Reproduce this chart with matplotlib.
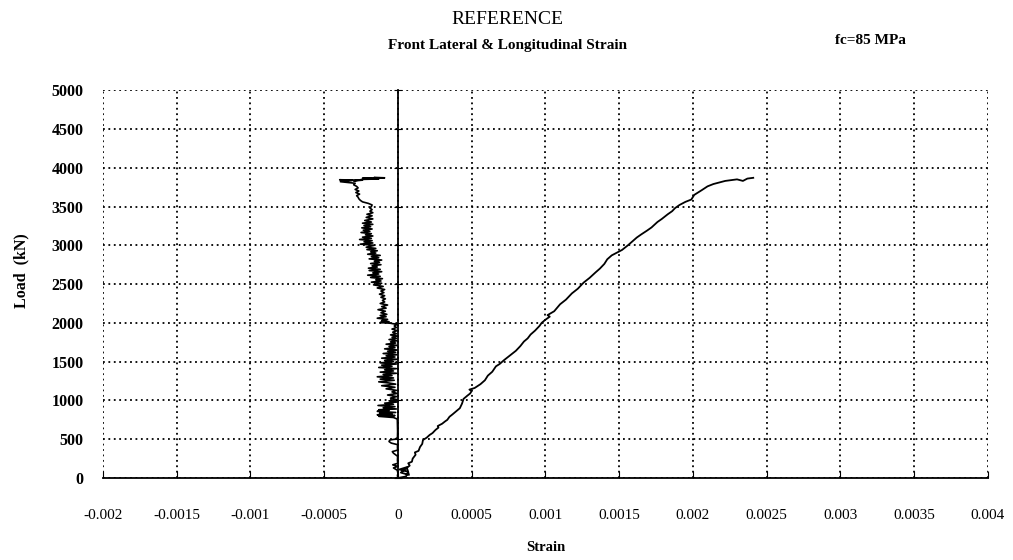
import matplotlib
matplotlib.use("Agg")
import matplotlib.pyplot as plt
import numpy as np

# Lateral strain (negative side): strain in micro-strain, load in kN
lat_strain = [0, -3, 0, -4, -30, -2, -35, -1, -3, -2, -30, -38, -2, -3, -2, -45, -60, -55, -20,
              -3, -2, -3, -4,
              -30, -130, -20, -140, -40, -125, -15, -140, -60, -130, -10, -100, -20, -135, -30,
              -90, -5, -60, -5,
              -50, -8, -70, -5, -40, -10, -80, -20, -110, -15, -60, -130, -25, -120, -30, -140,
              -40, -100, -10, -120, -30, -90,
              -10, -130, -40, -110, -10, -120, -30, -90, -5, -110, -20, -80, -5, -100, -15, -70,
              -5, -90, -20, -60, -5, -80, -15, -50, -5, -60, -10, -40, -5, -50, -10, -35, -5,
              -40, -10, -25, -5, -50, -120,
              -60, -110, -70, -140, -80, -120, -75, -115, -85, -135, -80, -110, -70, -120, -90,
              -105, -85, -115, -90, -125, -95, -115, -90, -140, -100, -165, -110, -180, -115,
              -150, -105, -185, -120,
              -205, -130, -170, -110, -195, -120, -200, -140, -175, -115, -185, -125, -160, -110,
              -195, -130, -180, -120, -205, -150, -185, -140, -210, -150, -215, -160,
              -255, -170, -230, -175, -260, -180, -240, -170, -220, -180, -250, -190, -235, -175,
              -245, -185, -230, -170, -240, -180, -225, -170, -215, -175, -210, -170, -190, -175,
              -190, -180, -175,
              -200, -240, -255, -265, -270, -280, -260, -285, -265, -290, -270, -280, -300, -290,
              -390, -310, -395, -240, -300, -240, -130, -240, -90, -160, -145]
lat_load = [0, 30, 60, 100, 130, 150, 170, 190, 230, 280, 320, 340, 360, 400, 430, 450, 470, 490, 500,
            520, 600, 700, 760,
            780, 795, 805, 815, 825, 835, 845, 860, 870, 880, 890, 905, 920, 935, 950,
            965, 980, 995, 1010,
            1030, 1050, 1070, 1090, 1110, 1130, 1150, 1170, 1190, 1210, 1225, 1240, 1260, 1275, 1290, 1305,
            1320, 1335, 1350, 1365, 1380, 1395,
            1410, 1425, 1440, 1455, 1470, 1485, 1500, 1515, 1530, 1545, 1560, 1575, 1590, 1605, 1620, 1635,
            1650, 1665, 1680, 1695, 1710, 1725, 1740, 1755, 1770, 1785, 1800, 1815, 1830, 1845, 1860, 1880, 1900,
            1920, 1940, 1960, 1980, 1995, 2005,
            2015, 2030, 2045, 2060, 2080, 2095, 2110, 2130, 2150, 2170, 2190, 2210, 2230, 2250, 2270,
            2290, 2310, 2330, 2350, 2370, 2390, 2410, 2430, 2450, 2470, 2490, 2510, 2525, 2540,
            2555, 2570, 2585, 2600,
            2615, 2630, 2645, 2660, 2675, 2690, 2705, 2720, 2735, 2750, 2765, 2780, 2795, 2810,
            2825, 2840, 2855, 2870, 2885, 2900, 2915, 2930, 2945, 2960, 2975, 3000,
            3015, 3030, 3045, 3060, 3075, 3090, 3105, 3120, 3135, 3150, 3165, 3180, 3195, 3210,
            3225, 3240, 3255, 3270, 3285, 3300, 3320, 3340, 3360, 3380, 3400, 3420, 3440, 3460,
            3480, 3500, 3520,
            3540, 3560, 3580, 3600, 3620, 3640, 3660, 3680, 3700, 3720, 3740, 3760, 3780, 3800,
            3820, 3835, 3845, 3840, 3830, 3850, 3855, 3865, 3870, 3875, 3860]

# Longitudinal strain (positive side)
lon_strain = [0, 55, 70, 10, 60, 75, 20, 80, 70, 95, 100, 120, 115, 140, 150, 165, 170, 195, 215,
              235, 255, 275, 270, 300, 320, 335, 350, 370, 395, 420, 435, 445, 470, 490, 500, 485,
              520, 560, 590, 610, 640, 665, 690, 720, 760, 800, 830, 855, 880, 900, 930, 960, 975,
              1000, 1030, 1015, 1060, 1100, 1140, 1180, 1220, 1260, 1300, 1340, 1370, 1400, 1420,
              1450, 1480, 1520, 1560, 1590, 1620, 1650, 1690, 1720, 1760, 1790, 1830, 1860, 1880,
              1910, 1950, 1990, 2010, 2060, 2100, 2140, 2180, 2220, 2260, 2300, 2340, 2370, 2410]
lon_load = [0, 20, 80, 110, 140, 40, 70, 160, 190, 210, 250, 300, 330, 350, 400, 440, 490, 520, 555,
            580, 620, 650, 670, 700, 730, 750, 790, 820, 860, 900, 960, 1020, 1060, 1090, 1120, 1140,
            1160, 1210, 1260, 1320, 1370, 1440, 1470, 1520, 1580, 1640, 1700, 1760, 1800, 1850, 1900, 1960, 2000,
            2040, 2080, 2100, 2150, 2240, 2300, 2380, 2440, 2520, 2580, 2650, 2700, 2760, 2820,
            2870, 2900, 2940, 3000, 3050, 3100, 3140, 3190, 3230, 3300, 3340, 3400, 3440, 3480,
            3520, 3560, 3590, 3650, 3710, 3760, 3790, 3810, 3830, 3840, 3850, 3830, 3860, 3870]

x_ticks = [-0.002, -0.0015, -0.001, -0.0005, 0, 0.0005, 0.001, 0.0015, 0.002,
           0.0025, 0.003, 0.0035, 0.004]
x_labels = ["-0.002", "-0.0015", "-0.001", "-0.0005", "0", "0.0005", "0.001",
            "0.0015", "0.002", "0.0025", "0.003", "0.0035", "0.004"]
y_ticks = list(range(0, 5001, 500))

plt.rcParams["font.family"] = ["Liberation Serif", "DejaVu Serif"]

fig = plt.figure(figsize=(10.13, 5.6), dpi=100)
ax = fig.add_axes([0.1017, 0.1464, 0.8733, 0.6926])

ax.plot(np.array(lat_strain) * 1e-6, lat_load, color="black", lw=1.2, zorder=3)
ax.plot(np.array(lon_strain) * 1e-6, lon_load, color="black", lw=1.3, zorder=3)

ax.set_xlim(-0.002, 0.004)
ax.set_ylim(0, 5000)
ax.set_xticks(x_ticks)
ax.set_xticklabels(x_labels)
ax.set_yticks(y_ticks)
ax.grid(True, color="black", linestyle=(0, (1, 2)), linewidth=1.3)

for s in ["top", "right"]:
    ax.spines[s].set_visible(False)
ax.spines["left"].set_position(("data", 0))
ax.spines["left"].set_linewidth(1.3)
ax.spines["bottom"].set_linewidth(1.3)
ax.tick_params(axis="x", direction="in", length=5, pad=22, labelsize=11)
ax.tick_params(axis="y", direction="inout", length=6, labelleft=False)

sec = ax.secondary_yaxis("left")
sec.set_yticks(y_ticks)
sec.spines["left"].set_visible(False)
sec.tick_params(axis="y", length=0, pad=14, labelsize=11.5)
for lbl in sec.get_yticklabels():
    lbl.set_fontweight("bold")

ax.set_ylabel("Load  (kN)", fontsize=11.5, fontweight="bold")
ax.yaxis.set_label_coords(-0.083, 0.535)

ax.set_xlabel("Strain", fontsize=10.5, fontweight="bold", labelpad=14)

fig.text(0.501, 0.965, "REFERENCE", ha="center", va="center", fontsize=14)
fig.text(0.501, 0.918, "Front Lateral & Longitudinal Strain", ha="center",
         va="center", fontsize=11, fontweight="bold")
fig.text(0.859, 0.928, "fc=85 MPa", ha="center", va="center", fontsize=11,
         fontweight="bold")

fig.savefig("out.png", dpi=100)
